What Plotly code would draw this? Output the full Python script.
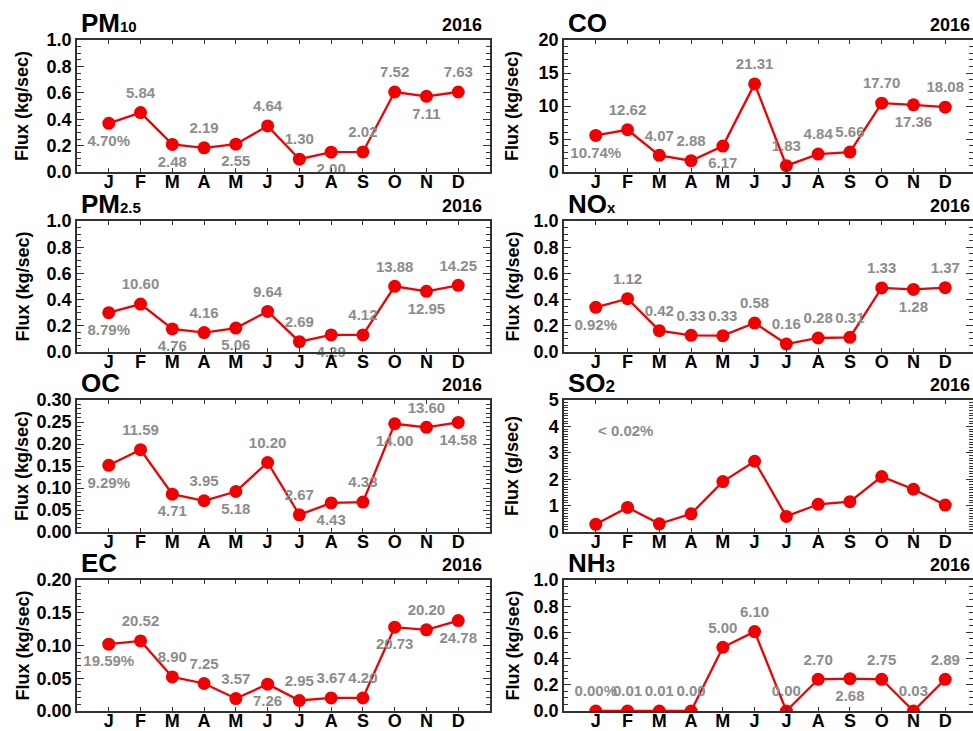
import plotly.graph_objects as go

months = ["J", "F", "M", "A", "M", "J", "J", "A", "S", "O", "N", "D"]
month_num = list(range(1, 13))
year_label = "2016"

pm10 = [0.369, 0.450, 0.209, 0.183, 0.211, 0.349, 0.097, 0.150, 0.152, 0.606, 0.573, 0.606]
pm10_text = ["4.70%", "5.84", "2.48", "2.19", "2.55", "4.64", "1.30", "2.00", "2.02", "7.52", "7.11", "7.63"]

co = [5.54, 6.40, 2.52, 1.71, 3.93, 13.35, 0.96, 2.72, 3.02, 10.43, 10.18, 9.82]
co_text = ["10.74%", "12.62", "4.07", "2.88", "6.17", "21.31", "1.83", "4.84", "5.66", "17.70", "17.36", "18.08"]

pm25 = [0.300, 0.366, 0.176, 0.148, 0.183, 0.310, 0.079, 0.130, 0.130, 0.501, 0.463, 0.509]
pm25_text = ["8.79%", "10.60", "4.76", "4.16", "5.06", "9.64", "2.69", "4.29", "4.12", "13.88", "12.95", "14.25"]

nox = [0.341, 0.407, 0.163, 0.127, 0.125, 0.221, 0.061, 0.107, 0.112, 0.489, 0.478, 0.491]
nox_text = ["0.92%", "1.12", "0.42", "0.33", "0.33", "0.58", "0.16", "0.28", "0.31", "1.33", "1.28", "1.37"]

oc = [0.1515, 0.187, 0.086, 0.071, 0.092, 0.158, 0.039, 0.066, 0.068, 0.246, 0.238, 0.249]
oc_text = ["9.29%", "11.59", "4.71", "3.95", "5.18", "10.20", "2.67", "4.43", "4.33", "14.00", "13.60", "14.58"]

so2 = [0.29, 0.93, 0.31, 0.69, 1.91, 2.68, 0.59, 1.05, 1.15, 2.10, 1.62, 1.02]
so2_note = "< 0.02%"

ec = [0.102, 0.107, 0.052, 0.042, 0.019, 0.041, 0.016, 0.020, 0.020, 0.128, 0.124, 0.138]
ec_text = ["19.59%", "20.52", "8.90", "7.25", "3.57", "7.26", "2.95", "3.67", "4.20", "20.73", "20.20", "24.78"]

nh3 = [0.0, 0.0, 0.0, 0.0, 0.486, 0.606, 0.0, 0.242, 0.247, 0.242, 0.0, 0.242]
nh3_text = ["0.00%", "0.01", "0.01", "0.00", "5.00", "6.10", "0.00", "2.70", "2.68", "2.75", "0.03", "2.89"]

# ---------------- styling / layout -----------------
W, H = 973, 731
FONT = "Liberation Sans, Arial, Helvetica, sans-serif"
RED = "#f00000"
GRAY = "#8c8c8c"
AX = "#333333"

# label side per point: u = above, d = below
SIDES = {
    "pm10": "dududuuduudu",
    "co": "duuuduuuuudu",
    "pm25": "dududuuduudu",
    "nox": "duuuuuuuuudu",
    "oc": "dududuududud",
    "so2": None,
    "ec": "duuuuduuudud",
    "nh3": "uuuuuuuuduuu",
}

col_x = [(77, 490, 13.0), (564, 973, (973 - 564) / (413 / 13.0))]
row_y = [(40, 172), (221, 352), (400, 532), (580, 711)]

panels = [
    # key, values, texts, title html, ytitle, ymax, dtick, minor dtick, tickformat
    ("pm10", pm10, pm10_text, "PM<span style='font-size:15px'>10</span>", "Flux (kg/sec)", 1.0, 0.2, 0.05, ".1f"),
    ("co", co, co_text, "CO", "Flux (kg/sec)", 20, 5, 1, "d"),
    ("pm25", pm25, pm25_text, "PM<span style='font-size:15px'>2.5</span>", "Flux (kg/sec)", 1.0, 0.2, 0.05, ".1f"),
    ("nox", nox, nox_text, "NO<span style='font-size:15px'>x</span>", "Flux (kg/sec)", 1.0, 0.2, 0.05, ".1f"),
    ("oc", oc, oc_text, "OC", "Flux (kg/sec)", 0.30, 0.05, 0.01, ".2f"),
    ("so2", so2, None, "SO<span style='font-size:17px'>2</span>", "Flux (g/sec)", 5, 1, 0.1, "d"),
    ("ec", ec, ec_text, "EC", "Flux (kg/sec)", 0.20, 0.05, 0.01, ".2f"),
    ("nh3", nh3, nh3_text, "NH<span style='font-size:17px'>3</span>", "Flux (kg/sec)", 1.0, 0.2, 0.05, ".1f"),
]

fig = go.Figure()
annotations = []
layout = {}

for i, (key, vals, texts, title, ytitle, ymax, dtick, mdtick, fmt) in enumerate(panels):
    n = i + 1
    r, c = divmod(i, 2)
    x0, x1, xmax = col_x[c]
    yt, yb = row_y[r]
    xd = [x0 / W, x1 / W]
    yd = [1 - yb / H, 1 - yt / H]
    xa = "x" if n == 1 else f"x{n}"
    ya = "y" if n == 1 else f"y{n}"

    fig.add_trace(go.Scatter(
        x=month_num, y=vals, mode="lines+markers",
        line=dict(color=RED, width=2.3),
        marker=dict(color=RED, size=13),
        xaxis=xa, yaxis=ya, showlegend=False, hoverinfo="skip",
    ))
    if texts is not None:
        pos = ["top center" if s == "u" else "bottom center" for s in SIDES[key]]
        fig.add_trace(go.Scatter(
            x=month_num, y=vals, mode="markers+text", text=texts,
            textposition=pos,
            textfont=dict(family=FONT, size=15, color=GRAY, weight="bold"),
            marker=dict(color="rgba(0,0,0,0)", size=16),
            cliponaxis=False,
            xaxis=xa, yaxis=ya, showlegend=False, hoverinfo="skip",
        ))

    xname = "xaxis" if n == 1 else f"xaxis{n}"
    yname = "yaxis" if n == 1 else f"yaxis{n}"
    layout[xname] = dict(
        domain=xd, range=[0, xmax], anchor=ya, automargin=False,
        tickmode="array", tickvals=month_num, ticktext=months,
        ticks="inside", ticklen=4, tickwidth=1.2, tickcolor=AX,
        mirror="allticks", showline=True, linecolor=AX, linewidth=1.5,
        showgrid=False, zeroline=False,
        tickfont=dict(family=FONT, size=18, color="black", weight="bold"),
        ticklabelstandoff=-7,
    )
    layout[yname] = dict(
        domain=yd, range=[0, ymax], anchor=xa, automargin=False,
        tickmode="linear", tick0=0, dtick=dtick, tickformat=fmt,
        ticks="inside", ticklen=7, tickwidth=1.2, tickcolor=AX,
        minor=dict(ticks="inside", ticklen=4, dtick=mdtick, tick0=0, tickcolor=AX, tickwidth=1),
        mirror="allticks", showline=True, linecolor=AX, linewidth=1.5,
        showgrid=False, zeroline=False,
        tickfont=dict(family=FONT, size=18, color="black", weight="bold"),
    )

    # panel title
    annotations.append(dict(
        xref="paper", yref="paper", x=(x0 + 2) / W, y=yd[1],
        xanchor="left", yanchor="middle", yshift=17, showarrow=False,
        text=title, font=dict(family=FONT, size=26, color="black", weight="bold"),
    ))
    # year
    annotations.append(dict(
        xref="paper", yref="paper", x=(x1 - 6 if c == 0 else 972) / W, y=yd[1],
        xanchor="right", yanchor="middle", yshift=15, showarrow=False,
        text=year_label, font=dict(family=FONT, size=18, color="black", weight="bold"),
    ))
    # y title
    annotations.append(dict(
        xref="paper", yref="paper", x=(22 if c == 0 else 512) / W, y=(yd[0] + yd[1]) / 2,
        xanchor="center", yanchor="middle", showarrow=False, textangle=-90,
        text=ytitle, font=dict(family=FONT, size=18, color="black", weight="bold"),
    ))

# SO2 note
annotations.append(dict(
    xref="x6", yref="y6", x=1.0, y=3.83, xanchor="left", yanchor="middle",
    showarrow=False, text=so2_note,
    font=dict(family=FONT, size=15, color=GRAY, weight="bold"),
))

fig.update_layout(
    width=W, height=H,
    margin=dict(l=0, r=0, t=0, b=0, pad=0, autoexpand=False),
    paper_bgcolor="white", plot_bgcolor="white",
    annotations=annotations,
    **layout,
)

fig.write_html(
    "out.html",
    config={"displayModeBar": False},
    post_script="document.body.style.margin='0px';document.body.style.padding='0px';document.body.style.overflow='hidden';",
)
